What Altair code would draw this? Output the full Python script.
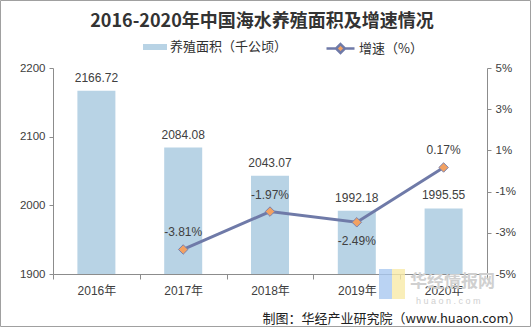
import altair as alt
import pandas as pd

years = ["2016年", "2017年", "2018年", "2019年", "2020年"]
area = [2166.72, 2084.08, 2043.07, 1992.18, 1995.55]
growth = [None, -3.81, -1.97, -2.49, 0.17]
area_ticks = [1900, 1950, 2000, 2050, 2100, 2150, 2200]
growth_ticks = [-5, -3, -1, 1, 3, 5]

TITLE = "2016-2020年中国海水养殖面积及增速情况"
AREA_NAME = "养殖面积（千公顷）"
GROWTH_NAME = "增速（%）"
FONT = "Liberation Sans, Arial, Noto Sans CJK SC"
CJK = "Noto Sans CJK SC"
TXT = "#404040"
AX = "#8c8c8c"

df = pd.DataFrame({"year": years, "area": area, "growth": growth})
df["s1"] = AREA_NAME
df["s2"] = GROWTH_NAME
df["area_lbl"] = [f"{v:.2f}" for v in area]
df["growth_lbl"] = [("" if g is None else f"{g:.2f}%") for g in growth]

x = alt.X("year:N", sort=years,
          scale=alt.Scale(paddingInner=0, paddingOuter=0),
          axis=alt.Axis(title="制图：华经产业研究院（www.huaon.com）",
                        titleFont=CJK, titleFontSize=13, titleFontWeight="normal",
                        titleColor="#202020", titleAnchor="end", titleAlign="right",
                        titleX=468, titleY=44, titleBaseline="middle",
                        labelAngle=0, labelFont=FONT, labelFontSize=12, labelColor=TXT,
                        labelPadding=6, tickBand="extent", tickSize=5,
                        domainColor=AX, tickColor=AX))

base = alt.Chart(df)

bars = base.mark_bar(size=38).encode(
    x=x,
    y=alt.Y("area:Q", scale=alt.Scale(domain=[1900, 2200], zero=False, nice=False),
            axis=alt.Axis(title=None, values=area_ticks, format="d", labelFont=FONT,
                          labelFontSize=11.5, labelColor=TXT, tickSize=4, domainColor=AX,
                          tickColor=AX, grid=False, labelPadding=4)),
    y2=alt.datum(1900),
    fill=alt.Fill("s1:N", scale=alt.Scale(domain=[AREA_NAME], range=["#B8D3E5"]),
                  legend=alt.Legend(title=None, orient="none", legendX=90, legendY=-33,
                                    padding=0, labelFont=CJK, labelFontSize=13,
                                    labelColor="#303030", labelOffset=3,
                                    symbolType="M-1,-0.25H1V0.25H-1Z", symbolSize=576,
                                    symbolStrokeWidth=0)),
)

bar_text = base.mark_text(dy=-13, font=FONT, fontSize=12, color=TXT).encode(
    x=alt.X("year:N", sort=years),
    y=alt.Y("area:Q", scale=alt.Scale(domain=[1900, 2200], zero=False, nice=False)),
    text="area_lbl:N",
)

left = alt.layer(bars, bar_text)

gscale = alt.Scale(domain=[-5, 5], nice=False)
gdata = base.transform_filter("isValid(datum.growth)")

line = gdata.mark_line(strokeWidth=3).encode(
    x=alt.X("year:N", sort=years),
    y=alt.Y("growth:Q", scale=gscale,
            axis=alt.Axis(title=None, orient="right", values=growth_ticks,
                          labelExpr="datum.value + '%'", labelFont=FONT, labelFontSize=11.5,
                          labelColor=TXT, tickSize=4, domainColor=AX, tickColor=AX,
                          grid=False, labelPadding=4)),
    stroke=alt.Stroke("s2:N", scale=alt.Scale(domain=[GROWTH_NAME], range=["#6F7AA8"]),
                      legend=alt.Legend(title=None, orient="none", legendX=272, legendY=-35,
                                        padding=0, labelFont=CJK, labelFontSize=13,
                                        labelColor="#303030", labelOffset=3,
                                        symbolType="M-1,0L-0.32,0M0.32,0L1,0M0,-0.32L0.32,0L0,0.32L-0.32,0Z",
                                        symbolSize=784, symbolStrokeWidth=2.5,
                                        symbolFillColor="#F2A162")),
)

pts = gdata.mark_point(shape="diamond", size=90, filled=True, fill="#F2A162",
                       stroke="#7A82AE", strokeWidth=1, opacity=1).encode(
    x=alt.X("year:N", sort=years),
    y=alt.Y("growth:Q", scale=gscale),
)

gtext_up = gdata.transform_filter("datum.year != '2019年'").mark_text(
    dy=-17, font=FONT, fontSize=12, color=TXT).encode(
    x=alt.X("year:N", sort=years),
    y=alt.Y("growth:Q", scale=gscale),
    text="growth_lbl:N",
)
gtext_dn = gdata.transform_filter("datum.year == '2019年'").mark_text(
    dy=19, font=FONT, fontSize=12, color=TXT).encode(
    x=alt.X("year:N", sort=years),
    y=alt.Y("growth:Q", scale=gscale),
    text="growth_lbl:N",
)

right = alt.layer(line, pts, gtext_up, gtext_dn)

# decorations (frame, title, watermark)
deco = pd.DataFrame({"a": [0]})
dchart = alt.Chart(deco)
border = dchart.mark_rect(fill=None, stroke="#a0a0a0", strokeWidth=1).encode(
    x=alt.value(-52.5), x2=alt.value(477.5), y=alt.value(-67.5), y2=alt.value(258.5))
title = dchart.mark_text(text=TITLE, font=CJK, fontSize=18, fontWeight="bold",
                         color="#333333", align="center", baseline="middle").encode(
    x=alt.value(209), y=alt.value(-46))
logo_b = dchart.mark_rect(fill="#a9c8f0", opacity=0.8).encode(
    x=alt.value(326), x2=alt.value(339), y=alt.value(201), y2=alt.value(231))
logo_y = dchart.mark_rect(fill="#f7eaa8", opacity=0.8).encode(
    x=alt.value(339), x2=alt.value(352), y=alt.value(201), y2=alt.value(231))
wm1 = dchart.mark_text(text="华经情报网", font=CJK, fontSize=17, fontWeight="bold",
                       color="#d0d0d0", align="left", baseline="middle").encode(
    x=alt.value(357), y=alt.value(214))
wm2 = dchart.mark_text(text="h u a o n . c o m", font=FONT, fontSize=9,
                       color="#d0d0d0", align="left", baseline="middle").encode(
    x=alt.value(363), y=alt.value(233))

chart = alt.layer(logo_b, logo_y, wm1, wm2, left, right, border, title).resolve_scale(
    y="independent", fill="independent", stroke="independent"
).properties(
    width=434, height=206,
    autosize=alt.AutoSizeParams(type="none"),
    padding={"left": 53, "top": 68, "right": 44, "bottom": 59},
    background="white",
).configure_view(stroke=None)

chart.save("out.html", embed_options={"renderer": "svg", "actions": False})
